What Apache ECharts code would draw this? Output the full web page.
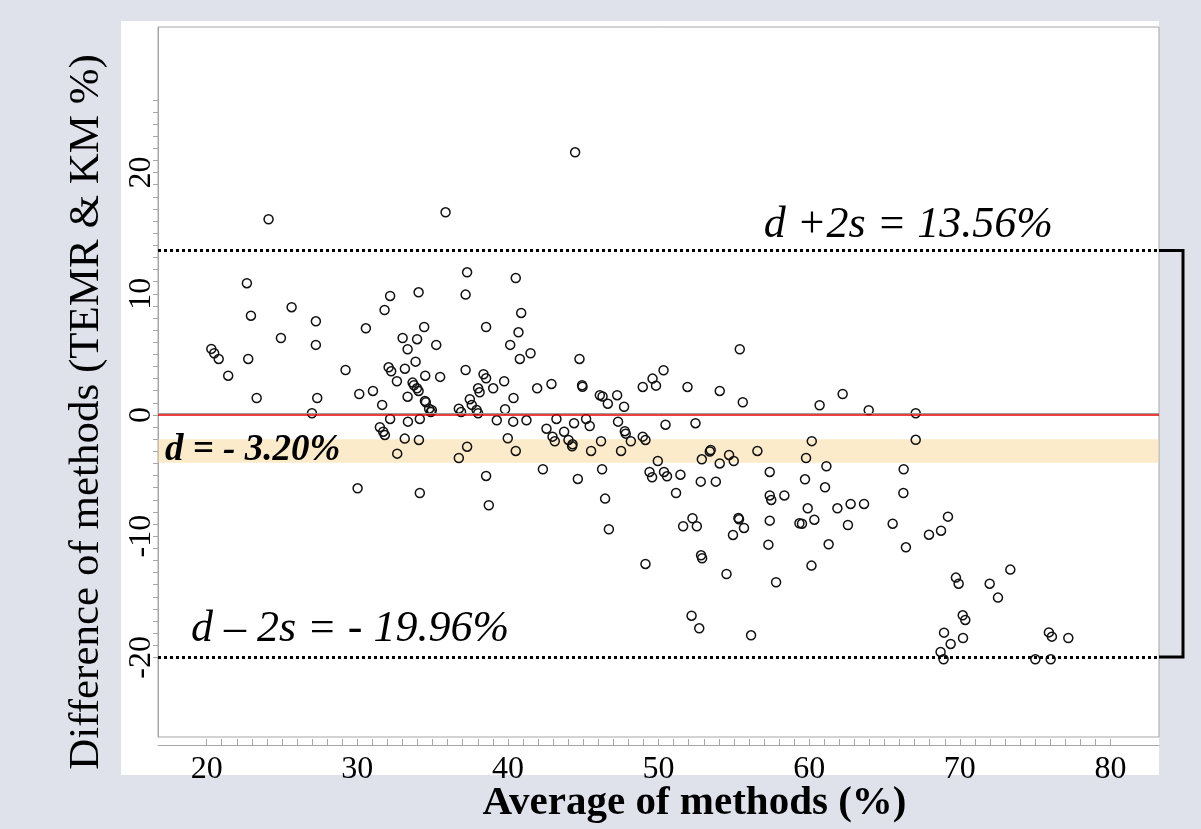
<!DOCTYPE html>
<html>
<head>
<meta charset="utf-8">
<script src="https://cdn.jsdelivr.net/npm/echarts@6/dist/echarts.min.js"></script>
<style>
  html, body { margin: 0; padding: 0; background: #dfe2eb; }
  #panel { position: absolute; left: 121px; top: 21px; width: 1038px; height: 754px; background: #fff; }
  #chart { position: absolute; left: 0; top: 0; width: 1201px; height: 829px; }
</style>
</head>
<body>
<div id="panel"></div>
<div id="chart"></div>
<script>
// average of the two methods (x) and their difference (y)
const avgValues = [
  44.46, 24.11, 35.86, 37.29, 40.52, 22.67, 37.19, 34.07, 32.18, 31.81,
  40.88, 25.64, 22.94, 27.25, 38.55, 34.44, 30.57, 40.70, 33.01, 24.93,
  33.97, 27.25, 35.24, 40.15, 33.34, 20.31, 20.50, 20.80, 22.76, 40.79,
  41.50, 44.75, 33.87, 21.43, 29.22, 32.08, 32.25, 33.16, 37.19, 38.38,
  38.55, 34.51, 35.50, 32.63, 33.67, 33.76, 33.96, 34.07, 39.75, 38.02,
  38.12, 39.02, 41.94, 42.89, 44.92, 44.95, 23.32, 27.34, 30.13, 31.04,
  33.34, 34.49, 34.55, 34.95, 34.88, 34.77, 31.65, 37.47, 37.60, 36.74,
  36.89, 37.92, 38.02, 40.37, 39.81, 46.10, 46.28, 26.99, 55.39, 50.33,
  49.60, 49.83, 48.95, 51.92, 54.06, 55.59, 47.25, 47.71, 46.63,
  50.46, 52.45, 47.31, 45.43, 45.19, 44.39, 43.22, 43.73, 42.56, 42.96,
  43.11, 44.02, 44.29, 44.26, 41.23, 40.35, 39.26, 37.29, 36.74, 38.55,
  38.73, 39.99, 40.52, 42.32, 44.64, 46.18, 45.52, 46.25, 46.45, 46.70,
  47.51, 47.76, 47.82, 48.16, 48.95, 49.13, 49.95, 49.40, 49.57, 50.36,
  50.56, 51.45, 51.16, 52.25, 51.63, 52.54, 49.13, 52.82, 52.89, 54.51,
  57.80, 57.29, 57.38, 57.38, 57.48, 58.35, 57.38, 55.30, 55.34, 55.67,
  54.94, 53.80, 52.80, 54.06, 52.87, 53.46, 53.40, 54.68, 54.99, 56.56,
  59.35, 34.15, 32.65, 34.09, 33.15, 32.18, 33.36, 34.15, 31.50, 31.72,
  31.83, 30.02,
  60.69, 62.22, 63.95, 67.07, 67.07, 60.17, 59.79, 61.14, 66.27, 66.25,
  59.72, 61.05, 59.90, 61.87, 62.75, 63.64, 59.52, 60.34, 62.57, 65.54,
  66.42, 61.29, 60.15, 56.14, 67.95, 68.75, 69.21, 69.74, 69.92, 71.98,
  72.53, 73.35, 70.19, 70.36, 68.95, 69.39, 70.21, 68.72, 68.92, 75.91,
  76.11, 77.20, 75.01, 76.03, 52.19, 52.70
];
const diffValues = [
  21.67, 16.15, 16.72, 11.77, 11.30, 10.87, 9.93, 10.12, 9.82, 8.66,
  8.42, 8.89, 8.19, 7.73, 7.26, 7.26, 7.15, 6.82, 6.35, 6.35,
  6.25, 5.78, 5.78, 5.78, 5.42, 5.45, 5.09, 4.62, 4.62, 4.62,
  5.09, 4.62, 4.40, 3.24, 3.71, 3.93, 3.60, 3.82, 3.71, 3.36,
  3.03, 3.24, 3.14, 2.78, 2.67, 2.45, 2.20, 1.98, 2.78, 2.20,
  1.87, 2.20, 2.20, 2.56, 2.45, 2.33, 1.40, 1.40, 1.73, 1.98,
  1.51, 1.16, 1.05, 0.39, 0.25, 0.52, 0.83, 1.30, 0.83, 0.52,
  0.25, 0.41, 0.14, 1.40, 0.47, 1.63, 1.53, 0.14, 5.42, 3.69,
  3.00, 2.42, 2.31, 2.31, 1.98, 1.05, 1.63, 0.68, 0.93,
  -0.80, -0.68, -0.55, -0.91, -0.33, -0.68, -0.33, -1.38, -1.13, -1.79,
  -2.17, -2.06, -2.42, -2.58, -0.44, -0.55, -0.44, -2.62, -3.55, -5.03,
  -7.45, -1.92, -2.97, -4.48, -5.28, -2.17, -2.97, -4.48, -6.90, -9.43,
  -2.97, -1.34, -1.54, -2.17, -1.79, -2.06, -3.80, -4.70, -5.14, -4.70,
  -5.06, -4.93, -6.44, -8.52, -9.18, -9.18, -12.29, -11.58, -11.82, -13.12,
  -13.80, -10.70, -8.72, -6.64, -7.01, -6.64, -4.70, -8.50, -8.61, -9.32,
  -9.90, -5.50, -5.50, -4.00, -3.66, -2.89, -3.01, -3.30, -3.80, -2.97,
  -8.94, -6.44, -3.19, -2.06, -1.95, -0.33, -0.55, -0.33, -1.01, -1.38,
  -1.65, -6.05,
  0.80, 1.73, 0.39, 0.14, -2.05, -2.16, -3.55, -4.23, -4.48, -6.44,
  -5.31, -5.97, -7.70, -7.70, -7.34, -7.34, -8.97, -8.64, -9.08, -8.97,
  -10.92, -10.67, -12.43, -18.18, -9.88, -9.55, -8.39, -13.42, -13.92, -13.92,
  -15.07, -12.76, -16.53, -16.91, -17.96, -18.89, -18.40, -19.55, -20.16, -17.94,
  -18.29, -18.40, -20.16, -20.16, -16.56, -17.60
];

// tick labels
const xLabelValues = [20, 30, 40, 50, 60, 70, 80];
const yLabelValues = [-20, -10, 0, 10, 20];

// reference lines
const upperLimit = 13.56;
const lowerLimit = -19.96;
const meanDiff = -3.20;
const zeroLine = 0;
const meanBand = [-2.0, -3.94];

const font = 'Liberation Serif';

// minor ticks every unit
const xTicks = [];
for (let v = 20; v <= 80; v++) xTicks.push(v);
const yTicks = [];
for (let v = -20; v <= 26; v++) yTicks.push(v);

const points = avgValues.map((v, i) => [v, diffValues[i]]);

const chart = echarts.init(document.getElementById('chart'));

const option = {
  animation: false,
  backgroundColor: 'transparent',
  textStyle: { fontFamily: font },
  grid: {
    left: 158, top: 27, width: 1001, height: 710,
    containLabel: false, outerBoundsMode: 'none',
    show: true, borderColor: '#a6a6a6', borderWidth: 1
  },
  xAxis: {
    type: 'value',
    min: 16.77, max: 83.22,
    offset: 8,
    axisLine: { show: true, onZero: false, lineStyle: { color: '#a6a6a6', width: 1 } },
    axisTick: { show: true, inside: true, length: 6, customValues: xTicks, lineStyle: { color: '#a6a6a6' } },
    axisLabel: { customValues: xLabelValues, fontSize: 32, color: '#000', fontFamily: font, margin: 9 },
    splitLine: { show: false },
    name: 'Average of methods (%)',
    nameLocation: 'middle',
    nameMoveOverlap: false,
    nameGap: 38,
    nameTextStyle: { fontSize: 41, fontWeight: 'bold', color: '#000', fontFamily: font, padding: [0, 0, 0, 72] }
  },
  yAxis: {
    type: 'value',
    min: -26.57, max: 32.01,
    axisLine: { show: true, onZero: false, lineStyle: { color: '#a6a6a6', width: 1 } },
    axisTick: { show: true, inside: false, length: 5, customValues: yTicks, lineStyle: { color: '#a6a6a6' } },
    axisLabel: { customValues: yLabelValues, rotate: 90, fontSize: 32, color: '#000', fontFamily: font, margin: 0 },
    splitLine: { show: false },
    name: 'Difference of methods (TEMR & KM %)',
    nameLocation: 'middle',
    nameMoveOverlap: false,
    nameGap: 50,
    nameTextStyle: { fontSize: 43, color: '#000', fontFamily: font, padding: [0, 60, 0, 0] }
  },
  series: [
    {
      type: 'scatter',
      data: points,
      symbol: 'circle',
      symbolSize: 9,
      silent: true,
      z: 2,
      itemStyle: { color: 'rgba(0,0,0,0)', borderColor: '#111', borderWidth: 1.5, opacity: 1 }
    },
    {
      // limits of agreement + zero line
      type: 'line',
      data: [],
      z: 4,
      markLine: {
        silent: true,
        symbol: ['none', 'none'],
        label: { show: false },
        data: [
          { yAxis: upperLimit, lineStyle: { color: '#000', width: 3, type: [3, 3] } },
          { yAxis: lowerLimit, lineStyle: { color: '#000', width: 3, type: [3, 3] } },
          { yAxis: zeroLine + 0.12, lineStyle: { color: '#9a9a9a', width: 1, type: 'solid' } },
          { yAxis: zeroLine, lineStyle: { color: '#e60000', width: 1.5, type: 'solid' } }
        ]
      }
    },
    {
      // band around the mean difference
      type: 'scatter',
      data: [],
      z: 5,
      markArea: {
        silent: true,
        itemStyle: { color: 'rgba(250,216,150,0.5)' },
        data: [[{ yAxis: meanBand[0] }, { yAxis: meanBand[1] }]]
      }
    }
  ]
};

chart.setOption(option);

// bracket and line labels placed from axis values
const px = (x, y) => chart.convertToPixel({ gridIndex: 0 }, [x, y]);
const yUp = px(50, upperLimit)[1];
const yLow = px(50, lowerLimit)[1];
const yBand = (px(50, meanBand[0])[1] + px(50, meanBand[1])[1]) / 2;
const gLeft = px(16.77, 0)[0];
const gRight = px(83.22, 0)[0];

chart.setOption({
  graphic: [
    {
      type: 'polyline',
      silent: true, z: 100,
      shape: { points: [[gRight, yUp], [gRight + 24, yUp], [gRight + 24, yLow], [gRight, yLow]] },
      style: { stroke: '#000', lineWidth: 3, fill: null }
    },
    {
      type: 'text', silent: true, z: 100, x: gRight - 106, y: yUp - 3,
      style: {
        text: 'd +2s = ' + upperLimit.toFixed(2) + '%',
        font: 'italic 44px "Liberation Serif"', fill: '#000',
        textAlign: 'right', textVerticalAlign: 'bottom'
      }
    },
    {
      type: 'text', silent: true, z: 100, x: gLeft + 33, y: yLow - 5,
      style: {
        text: 'd \u2013 2s = - ' + Math.abs(lowerLimit).toFixed(2) + '%',
        font: 'italic 44px "Liberation Serif"', fill: '#000',
        textAlign: 'left', textVerticalAlign: 'bottom'
      }
    },
    {
      type: 'text', silent: true, z: 100, x: gLeft + 7, y: yBand - 1,
      style: {
        text: 'd = - ' + Math.abs(meanDiff).toFixed(2) + '%',
        font: 'italic bold 37px "Liberation Serif"', fill: '#000',
        textAlign: 'left', textVerticalAlign: 'middle'
      }
    }
  ]
});
</script>
</body>
</html>
